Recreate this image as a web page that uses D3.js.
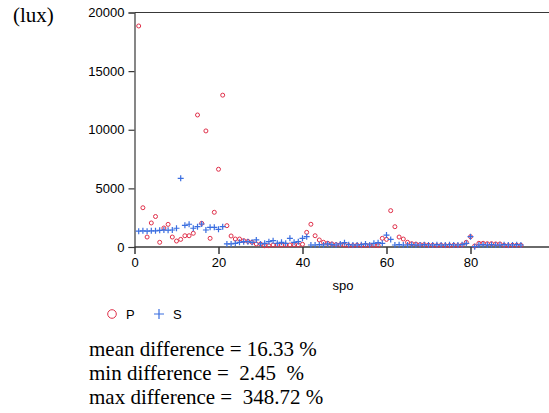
<!DOCTYPE html>
<html>
<head>
<meta charset="utf-8">
<script src="https://cdn.jsdelivr.net/npm/d3@7"></script>
<style>
  body { margin: 0; background: #fff; }
  svg { display: block; }
  .tick text { font-family: "Liberation Sans", Arial, sans-serif; font-size: 13px; fill: #000; }
</style>
</head>
<body>
<svg id="chart" width="549" height="413"></svg>
<script>
// values, spo = 1..92
var pVals = [18850, 3350, 850, 2050, 2600, 400, 1620, 1930, 850, 510,
  650, 960, 960, 1170, 11260, 2020, 9900, 740, 2960, 6630,
  12950, 1820, 940, 680, 680, 540, 480, 400, 260, 250,
  110, 110, 170, 170, 170, 170, 170, 200, 170, 230,
  1250, 1940, 960, 600, 400, 315, 260, 200, 200, 170,
  120, 120, 150, 120, 150, 120, 150, 120, 740, 650,
  3100, 1730, 850, 680, 400, 280, 250, 200, 200, 150,
  150, 120, 150, 120, 120, 150, 120, 170, 400, 880,
  85, 315, 315, 280, 280, 260, 260, 150, 120, 150,
  150, 145];
var sVals = [1350, 1380, 1350, 1380, 1380, 1420, 1450, 1430, 1450, 1600,
  5860, 1850, 1940, 1600, 1730, 1960, 1450, 1680, 1680, 1510,
  1730, 260, 260, 310, 400, 450, 450, 400, 600, 260,
  310, 450, 540, 310, 400, 310, 740, 400, 450, 740,
  880, 170, 170, 200, 170, 260, 200, 170, 260, 370,
  200, 170, 170, 200, 260, 170, 310, 370, 310, 1020,
  650, 170, 200, 170, 170, 200, 170, 170, 200, 170,
  170, 200, 170, 170, 200, 170, 170, 200, 310, 880,
  30, 170, 200, 170, 200, 170, 170, 200, 170, 170,
  200, 170];
var xTicks = [0, 20, 40, 60, 80];
var yTicks = [0, 5000, 10000, 15000, 20000];
var statLines = ["mean difference = 16.33 %", "min difference =  2.45  %", "max difference =  348.72 %"];

var svg = d3.select("#chart");
var pColor = "#e0304a", sColor = "#3a6ee0", axisColor = "#383838";

var x = d3.scaleLinear().domain([0, 100]).range([134.5, 554.5]);
var y = d3.scaleLinear().domain([0, 20000]).range([247, 12.5]);

// top frame line
svg.append("line")
  .attr("x1", x(0)).attr("x2", 549)
  .attr("y1", y(20000)).attr("y2", y(20000))
  .attr("stroke", axisColor).attr("stroke-width", 1.2);

// minor ticks first, then major ticks with labels
var gx = svg.append("g").attr("transform", "translate(0," + y(0) + ")");
gx.call(d3.axisBottom(x).tickValues(d3.range(0, 100, 10)).tickSize(4).tickFormat(""));
gx.call(d3.axisBottom(x).tickValues(xTicks).tickSize(7).tickPadding(4).tickFormat(d3.format("d")));
gx.selectAll("path, line").attr("stroke", axisColor).attr("stroke-width", 1.5);

var gy = svg.append("g").attr("transform", "translate(" + x(0) + ",0)");
gy.call(d3.axisLeft(y).tickValues(d3.range(0, 20001, 2500)).tickSize(3).tickFormat(""));
gy.call(d3.axisLeft(y).tickValues(yTicks).tickSize(6).tickPadding(4).tickFormat(d3.format("d")));
gy.selectAll("path, line").attr("stroke", axisColor).attr("stroke-width", 1.2);
gx.select(".domain").attr("d", "M" + x(0) + ",0H549");

svg.append("text").attr("x", 13).attr("y", 22)
  .attr("font-family", "Liberation Serif, Times New Roman, serif").attr("font-size", 21)
  .text("(lux)");

svg.append("text").attr("x", 343).attr("y", 290).attr("text-anchor", "middle")
  .attr("font-family", "Liberation Sans, Arial, sans-serif").attr("font-size", 13)
  .text("spo");

// points
svg.append("g").selectAll("circle").data(pVals).join("circle")
  .attr("cx", function (d, i) { return x(i + 1); })
  .attr("cy", function (d) { return y(d); })
  .attr("r", 2)
  .attr("fill", "none").attr("stroke", pColor).attr("stroke-width", 1);

svg.append("g").selectAll("path").data(sVals).join("path")
  .attr("d", function (d, i) {
    var cx = x(i + 1), cy = y(d), h = 3;
    return "M" + (cx - h) + "," + cy + "H" + (cx + h) + "M" + cx + "," + (cy - h) + "V" + (cy + h);
  })
  .attr("stroke", sColor).attr("stroke-width", 1.2).attr("fill", "none");

// legend
svg.append("circle").attr("cx", 112).attr("cy", 314).attr("r", 4.3)
  .attr("fill", "none").attr("stroke", pColor).attr("stroke-width", 1);
svg.append("text").attr("x", 126).attr("y", 318.5)
  .attr("font-family", "Liberation Sans, Arial, sans-serif").attr("font-size", 13).text("P");
svg.append("path").attr("d", "M154,314H164M159,309V319")
  .attr("stroke", sColor).attr("stroke-width", 1.2);
svg.append("text").attr("x", 173).attr("y", 318.5)
  .attr("font-family", "Liberation Sans, Arial, sans-serif").attr("font-size", 13).text("S");

// stats text
svg.append("g").selectAll("text").data(statLines).join("text")
  .attr("x", 89)
  .attr("y", function (d, i) { return 356 + i * 24; })
  .attr("font-family", "Liberation Serif, Times New Roman, serif").attr("font-size", 21)
  .style("white-space", "pre")
  .text(function (d) { return d; });
</script>
</body>
</html>
